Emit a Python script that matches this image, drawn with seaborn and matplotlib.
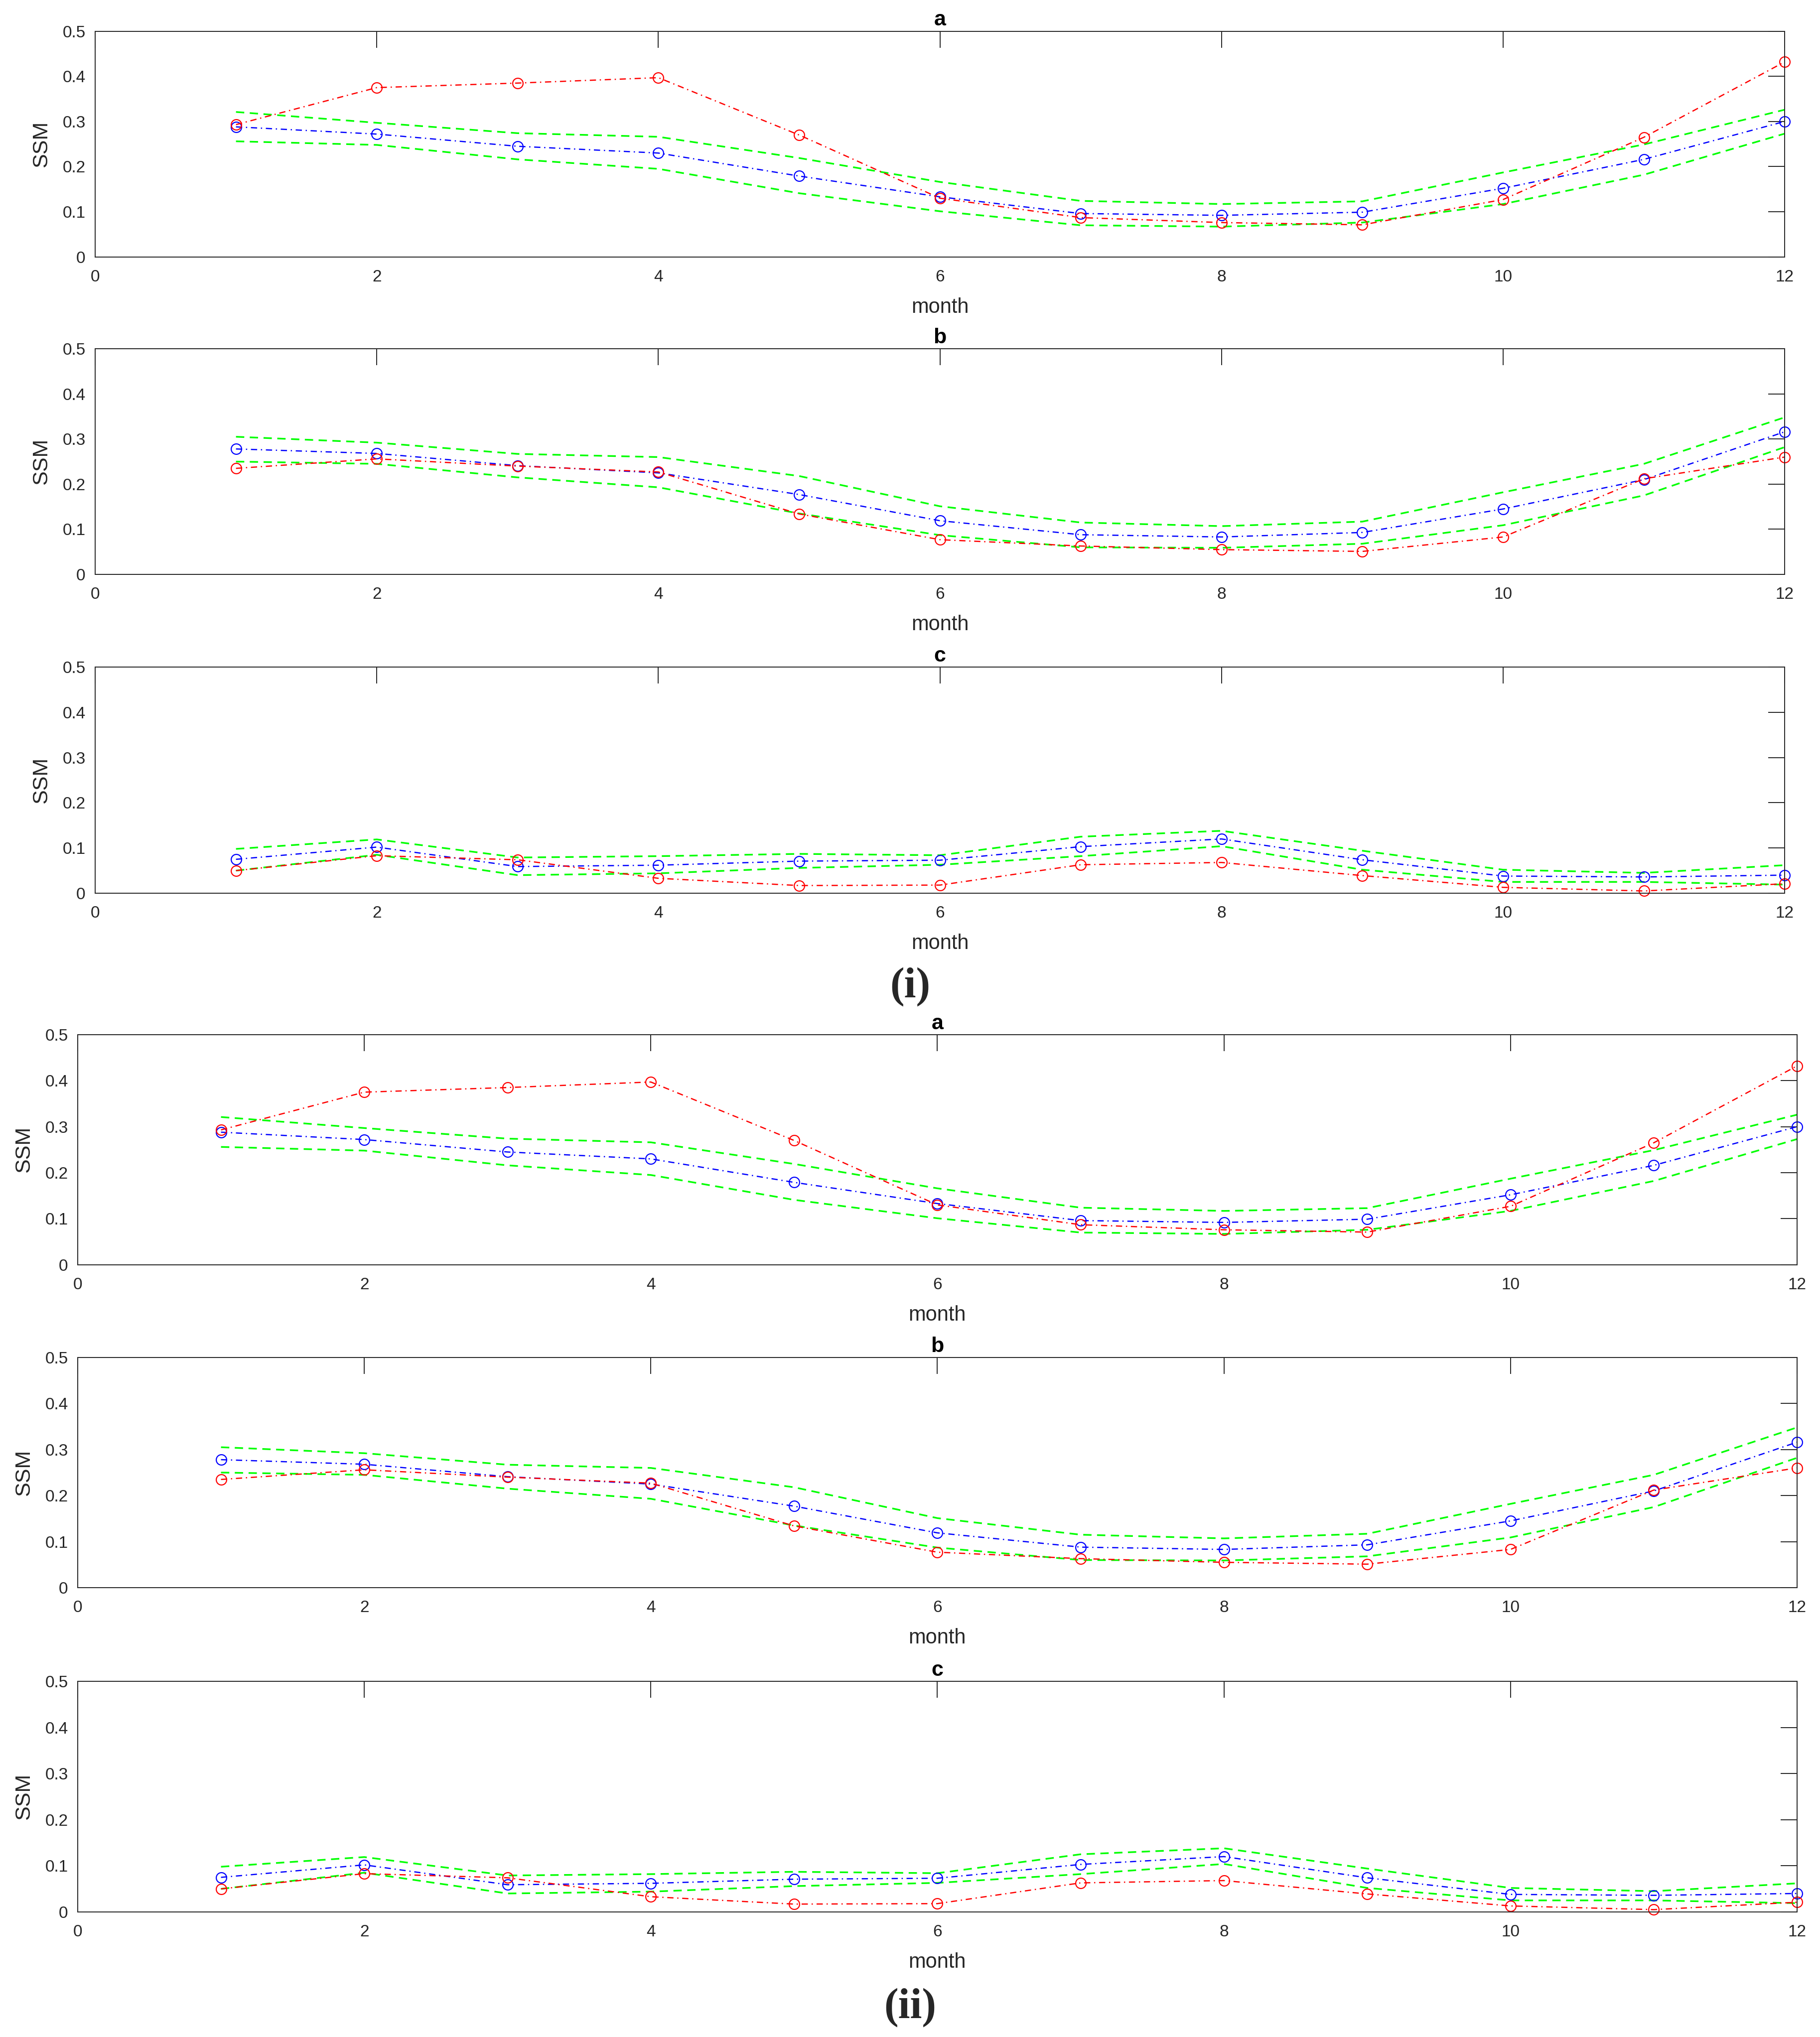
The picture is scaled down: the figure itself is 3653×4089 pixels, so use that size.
import numpy as np
import matplotlib
matplotlib.use("Agg")
import matplotlib.pyplot as plt
import seaborn as sns

months = [1, 2, 3, 4, 5, 6, 7, 8, 9, 10, 11, 12]

# panel a
a_red = [0.293, 0.375, 0.385, 0.397, 0.270, 0.130, 0.087, 0.076, 0.071, 0.127, 0.265, 0.432]
a_blue = [0.288, 0.272, 0.245, 0.230, 0.179, 0.133, 0.096, 0.092, 0.099, 0.152, 0.216, 0.300]
a_up = [0.321, 0.297, 0.274, 0.266, 0.219, 0.166, 0.124, 0.117, 0.123, 0.187, 0.249, 0.326]
a_low = [0.256, 0.248, 0.216, 0.195, 0.141, 0.101, 0.070, 0.067, 0.076, 0.117, 0.182, 0.273]

# panel b
b_red = [0.235, 0.256, 0.240, 0.227, 0.134, 0.077, 0.063, 0.055, 0.051, 0.083, 0.212, 0.260]
b_blue = [0.278, 0.268, 0.241, 0.225, 0.177, 0.119, 0.088, 0.083, 0.093, 0.145, 0.210, 0.316]
b_up = [0.305, 0.292, 0.267, 0.260, 0.218, 0.151, 0.115, 0.107, 0.117, 0.182, 0.245, 0.348]
b_low = [0.250, 0.245, 0.215, 0.193, 0.135, 0.087, 0.060, 0.059, 0.068, 0.109, 0.175, 0.282]

# panel c
c_red = [0.050, 0.083, 0.074, 0.033, 0.017, 0.018, 0.063, 0.068, 0.039, 0.013, 0.005, 0.021]
c_blue = [0.075, 0.102, 0.059, 0.062, 0.071, 0.073, 0.103, 0.120, 0.074, 0.038, 0.036, 0.040]
c_up = [0.098, 0.119, 0.079, 0.082, 0.087, 0.084, 0.125, 0.138, 0.094, 0.052, 0.045, 0.062]
c_low = [0.050, 0.085, 0.040, 0.044, 0.056, 0.063, 0.082, 0.104, 0.052, 0.025, 0.025, 0.019]

panels = [("a", a_red, a_blue, a_up, a_low),
          ("b", b_red, b_blue, b_up, b_low),
          ("c", c_red, c_blue, c_up, c_low)]

ytick_vals = [0, 0.1, 0.2, 0.3, 0.4, 0.5]
ytick_labels = ["0", "0.1", "0.2", "0.3", "0.4", "0.5"]
xtick_vals = [0, 2, 4, 6, 8, 10, 12]

sns.set_style("white")
plt.rcParams["font.family"] = ["Liberation Sans", "DejaVu Sans"]

fig = plt.figure(figsize=(36.53, 40.89), dpi=100)

# axes boxes [left, bottom, width, height] for (i) and (ii)
boxes_i = [(0.0523, 0.8739, 0.9806 - 0.0523, 0.9847 - 0.8739),
           (0.0523, 0.7180, 0.9806 - 0.0523, 0.8288 - 0.7180),
           (0.0523, 0.5615, 0.9806 - 0.0523, 0.6725 - 0.5615)]
boxes_ii = [(0.0427, 0.3791, 0.9874 - 0.0427, 0.4921 - 0.3791),
            (0.0427, 0.2206, 0.9874 - 0.0427, 0.3336 - 0.2206),
            (0.0427, 0.0614, 0.9874 - 0.0427, 0.1746 - 0.0614)]

dark = "#262626"

for boxes in (boxes_i, boxes_ii):
    for box, (name, red, blue, up, low) in zip(boxes, panels):
        ax = fig.add_axes(box)
        green_ls = (0, (5, 3.3))
        sns.lineplot(x=months, y=up, ax=ax, color="#00FF00", lw=2.4, linestyle=green_ls)
        sns.lineplot(x=months, y=low, ax=ax, color="#00FF00", lw=2.4, linestyle=green_ls)
        for vals, col in ((blue, "#0000FF"), (red, "#FF0000")):
            sns.lineplot(x=months, y=vals, ax=ax, color=col, lw=1.8,
                         linestyle=(0, (5, 3, 1, 3)), marker="o", markersize=15,
                         markerfacecolor="none", markeredgecolor=col,
                         markeredgewidth=1.6, clip_on=False)
        ax.set_xlim(0, 12)
        ax.set_ylim(0, 0.5)
        ax.set_xticks(xtick_vals)
        ax.set_yticks(ytick_vals)
        ax.set_yticklabels(ytick_labels)
        ax.tick_params(axis="both", direction="in", length=24, width=1.4,
                       colors=dark, labelsize=24, top=True, right=True)
        ax.tick_params(axis="x", pad=18)
        ax.tick_params(axis="y", pad=14)
        for sp in ax.spines.values():
            sp.set_visible(True)
            sp.set_linewidth(1.4)
            sp.set_color(dark)
        ax.set_xlabel("month", fontsize=30, color=dark, labelpad=18)
        ax.set_ylabel("SSM", fontsize=31, color=dark, labelpad=16)
        ax.set_title(name, fontsize=31, fontweight="bold", color="black", pad=8)

fig.text(0.5, 0.5155, "(i)", ha="center", va="center", fontsize=62,
         fontweight="bold", family="Liberation Serif")
fig.text(0.5, 0.0144, "(ii)", ha="center", va="center", fontsize=62,
         fontweight="bold", family="Liberation Serif")

fig.savefig("out.png", dpi=100, facecolor="white")
